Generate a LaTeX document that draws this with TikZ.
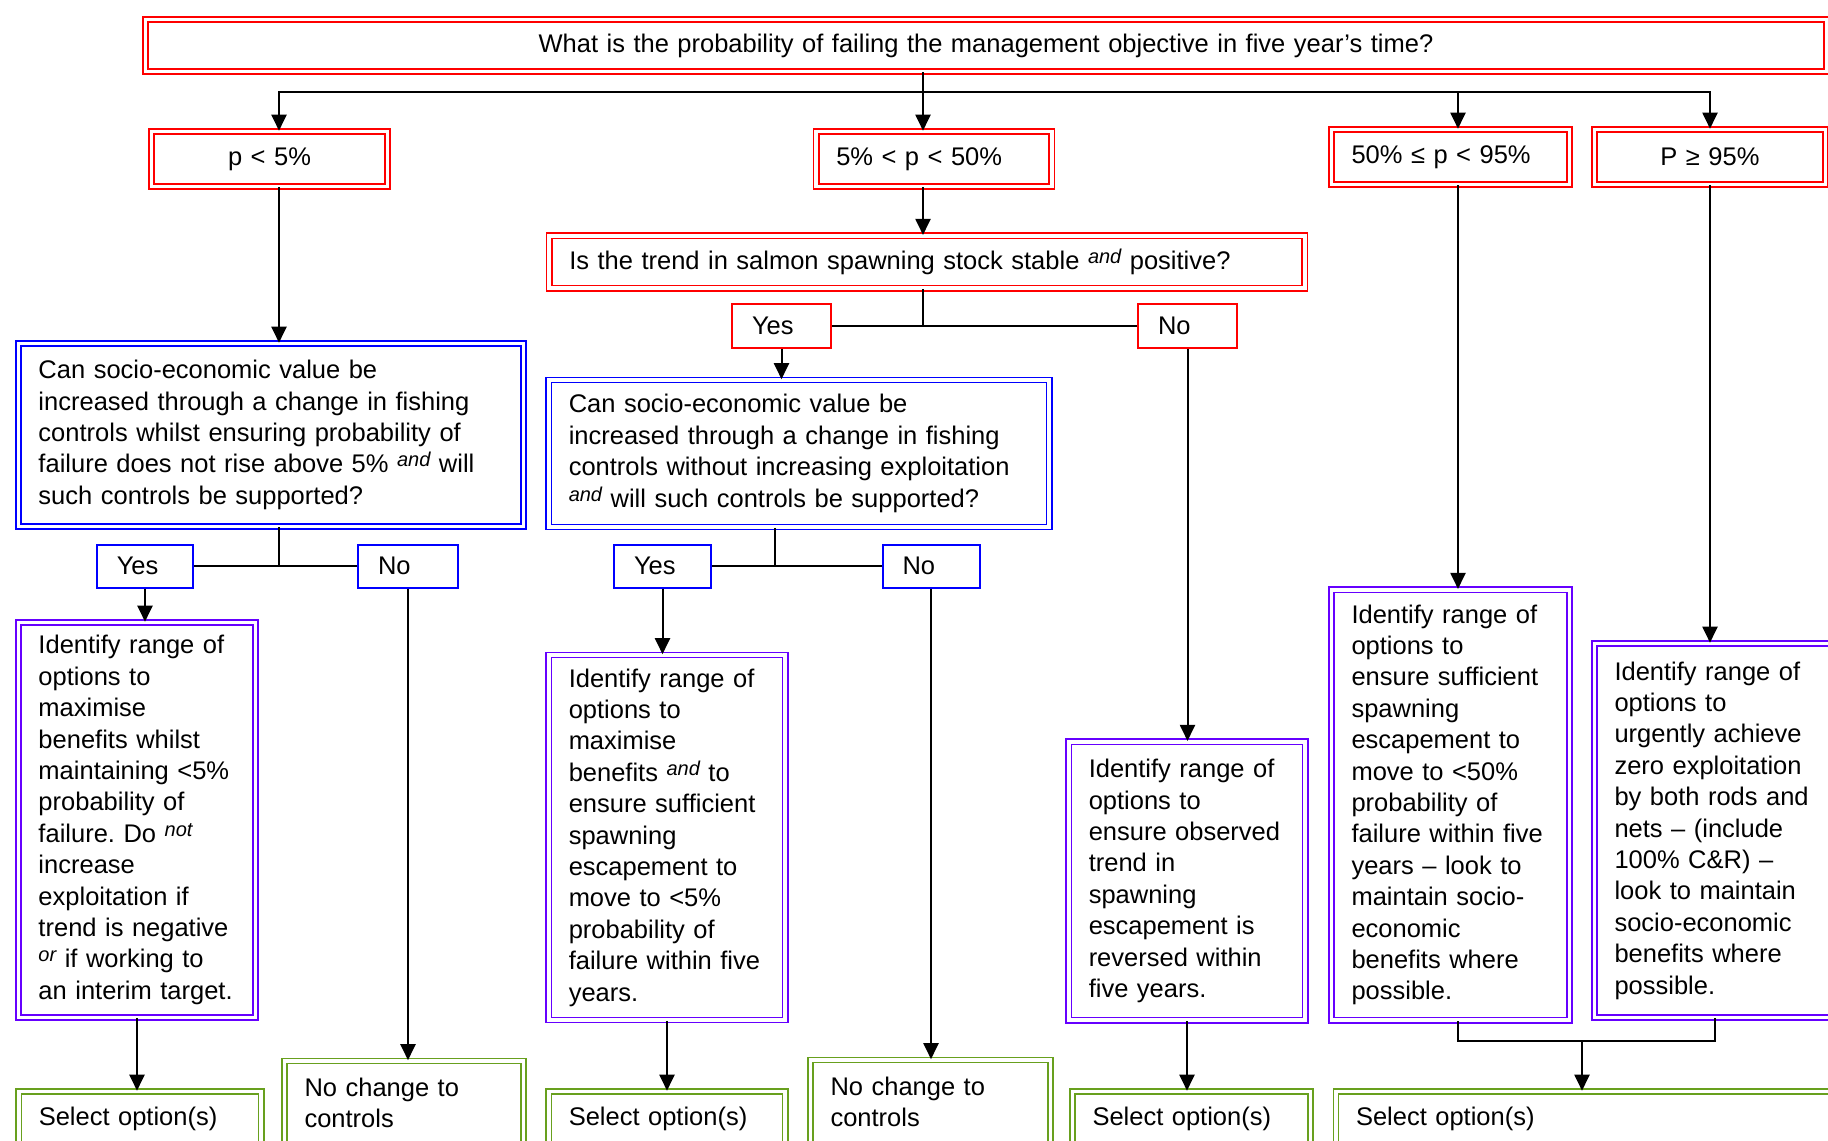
\documentclass[tikz,border=0pt]{standalone}
\usepackage{fontspec}
\setmainfont{Liberation Sans}
\usetikzlibrary{arrows.meta}

\definecolor{boxred}{RGB}{255,0,0}
\definecolor{boxblue}{RGB}{0,0,255}
\definecolor{boxviolet}{RGB}{102,0,255}
\definecolor{boxgreen}{RGB}{104,160,30}
\newcommand{\raisedit}[1]{\raisebox{0.45ex}{\fontsize{10}{12}\selectfont\itshape #1}}
\frenchspacing

\begin{document}
\begin{tikzpicture}[x=0.5pt,y=-0.5pt,
    font=\fontsize{12.75}{15.7}\selectfont,
    frame/.style={rectangle,align=left,inner xsep=10pt,inner ysep=3pt,
        line width=0.8pt,double=white,double distance=1.8pt},
    redbox/.style={frame,draw=boxred},
    bluebox/.style={frame,draw=boxblue},
    violetbox/.style={frame,draw=boxviolet},
    greenbox/.style={frame,draw=boxgreen},
    tab/.style={rectangle,align=left,inner xsep=10pt,inner ysep=2pt,line width=1pt},
    redtab/.style={tab,draw=boxred},
    bluetab/.style={tab,draw=boxblue},
    arr/.style={-{Triangle[width=7.5pt,length=8pt]},line width=1pt},
    line width=1pt]
    \useasboundingbox (0,0) rectangle (1828,1141);
    \clip (0,0) rectangle (1828,1141);

    \node [redbox,align=center,text width=820.5pt,minimum height=26pt](top)at(986,45.5){What is the probability of failing the management objective in five year's time?};
    \node [redbox,align=center,text width=98pt,minimum height=27.5pt](lowp)at(269.5,159){p < 5\%};
    \node [redbox,text width=97.75pt,minimum height=27.5pt](midp)at(934,159){5\% < p < 50\%};
    \node [redbox,text width=99pt,minimum height=27.5pt](highp)at(1450.5,157){50\% ≤ p < 95\%};
    \node [redbox,align=center,text width=95.5pt,minimum height=27.5pt](topp)at(1710,157){P ≥ 95\%};

    \node [redbox,text width=357.75pt,minimum height=26.25pt](trend)at(927,262){Is the trend in salmon spawning stock stable \raisedit{and} positive?};
    \node [redtab,text width=29.5pt,minimum height=21.75pt](trendyes)at(781.5,326){Yes};
    \node [redtab,text width=29.5pt,minimum height=21.75pt](trendno)at(1187.5,326){No};

    \node [bluebox,text width=232.5pt,minimum height=91.5pt](ask1)at(271,435){Can socio-economic value be\\increased through a change in fishing\\controls whilst ensuring probability of\\failure does not rise above 5\% \raisedit{and} will\\such controls be supported?};
    \node [bluebox,text width=230.25pt,minimum height=73.5pt](ask2)at(799,453.5){Can socio-economic value be\\increased through a change in fishing\\controls without increasing exploitation\\\raisedit{and} will such controls be supported?};
    \node [bluetab,text width=28.25pt,minimum height=21.5pt](yes1)at(145,566){Yes};
    \node [bluetab,text width=30pt,minimum height=21.5pt](no1)at(408,566){No};
    \node [bluetab,text width=28.5pt,minimum height=21.5pt](yes2)at(662.5,566){Yes};
    \node [bluetab,text width=28.5pt,minimum height=21.5pt](no2)at(931,566){No};

    \node [violetbox,text width=98.5pt,minimum height=197.5pt](act1)at(137,820){Identify range of\\options to\\maximise\\benefits whilst\\maintaining <5\%\\probability of\\failure. Do \raisedit{not}\\increase\\exploitation if\\trend is negative\\\raisedit{or} if working to\\an interim target.};
    \node [violetbox,text width=98.25pt,minimum height=182.5pt](act2)at(667,837.5){Identify range of\\options to\\maximise\\benefits \raisedit{and} to\\ensure sufficient\\spawning\\escapement to\\move to <5\%\\probability of\\failure within five\\years.};
    \node [violetbox,text width=98.25pt,minimum height=139.25pt](act3)at(1187,881){Identify range of\\options to\\ensure observed\\trend in\\spawning\\escapement is\\reversed within\\five years.};
    \node [violetbox,text width=99pt,minimum height=215.25pt](act4)at(1450.5,805){Identify range of\\options to\\ensure sufficient\\spawning\\escapement to\\move to <50\%\\probability of\\failure within five\\years – look to\\maintain socio-\\economic\\benefits where\\possible.};
    \node [violetbox,text width=100.5pt,minimum height=187pt](act5)at(1715,830.5){Identify range of\\options to\\urgently achieve\\zero exploitation\\by both rods and\\nets – (include\\100\% C\&R) –\\look to maintain\\socio-economic\\benefits where\\possible.};

    \node [greenbox,text width=99.5pt,minimum height=42pt](keep1)at(404,1103){No change to\\controls};
    \node [greenbox,text width=100pt,minimum height=42pt](keep2)at(930.5,1102){No change to\\controls};
    \node [greenbox,text width=101.25pt,minimum height=27pt](sel1)at(140,1118.5){Select option(s)};
    \node [greenbox,text width=98.25pt,minimum height=27pt](sel2)at(667,1118.5){Select option(s)};
    \node [greenbox,text width=99pt,minimum height=27pt](sel3)at(1191.5,1118.5){Select option(s)};
    \node [greenbox,text width=237pt,minimum height=27pt](sel4)at(1593,1118.5){Select option(s)};

    \coordinate (bus)at(923,92);
    \coordinate (fork1)at(279,566);
    \coordinate (fork2)at(775,566);
    \coordinate (col3)at(1458,0);
    \coordinate (merge)at(1582,1041);

    \draw (bus |- top.south)--(bus);
    \draw [arr](bus)-|(fork1 |- lowp.north);
    \draw [arr](bus)--(bus |- midp.north);
    \draw [arr](bus)-|(col3 |- highp.north);
    \draw [arr](bus)-|(topp);
    \draw [arr](fork1 |- lowp.south)--(fork1 |- ask1.north);
    \draw [arr](bus |- midp.south)--(bus |- trend.north);
    \draw (bus |- trend.south)--(bus |- trendyes);
    \draw (trendyes)--(trendno);
    \draw [arr](trendyes)--(trendyes |- ask2.north);
    \draw [arr](trendno)--(trendno |- act3.north);
    \draw (fork1 |- ask1.south)--(fork1);
    \draw (yes1)--(no1);
    \draw [arr](yes1)--(yes1 |- act1.north);
    \draw [arr](no1)--(no1 |- keep1.north);
    \draw (fork2 |- ask2.south)--(fork2);
    \draw (yes2)--(no2);
    \draw [arr](yes2)--(yes2 |- act2.north);
    \draw [arr](no2)--(no2 |- keep2.north);
    \draw [arr](act1)--(act1 |- sel1.north);
    \draw [arr](act2)--(act2 |- sel2.north);
    \draw [arr](act3)--(act3 |- sel3.north);
    \draw [arr](col3 |- highp.south)--(col3 |- act4.north);
    \draw [arr](topp)--(topp |- act5.north);
    \draw (col3 |- act4.south)|-(merge)-|(act5);
    \draw [arr](merge)--(merge |- sel4.north);
\end{tikzpicture}
\end{document}
